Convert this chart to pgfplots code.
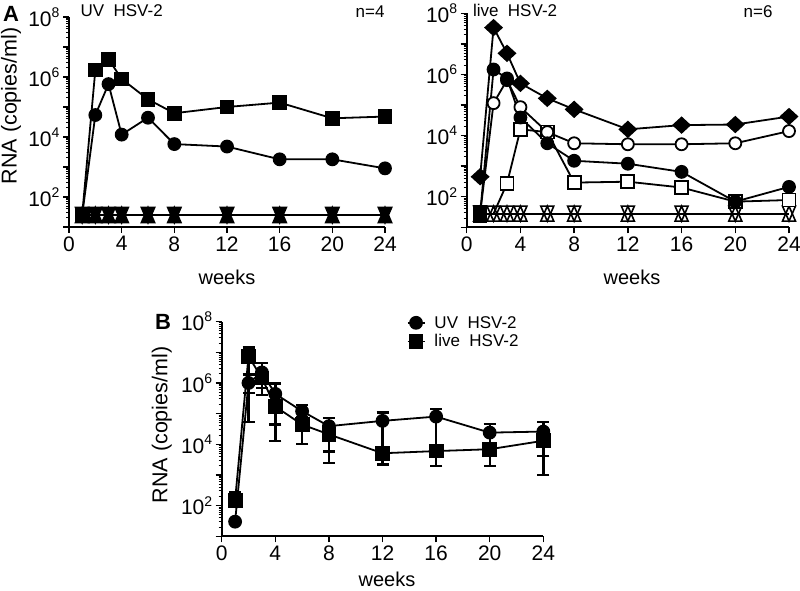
\documentclass[border=0pt]{standalone}
\usepackage{fontspec}
\setmainfont{Liberation Sans}
\usepackage{pgfplots}
\pgfplotsset{compat=1.18}
\newcommand{\ex}[1]{10\raisebox{0.42em}{\fontsize{14}{14}\selectfont #1}}
\begin{document}
\begin{tikzpicture}
\useasboundingbox (0pt,0pt) rectangle (800pt,591pt);

% ---------------- Panel A left: UV HSV-2 ----------------
\begin{axis}[
    scale only axis, at={(69pt,364pt)}, anchor=south west, width=316pt, height=210pt,
    ymode=log, xmin=0, xmax=24, ymin=10, ymax=1e8,
    axis x line*=bottom, axis y line*=left,
    axis line style={-, line width=1.8pt},
    clip=false,
    xtick={0,4,8,12,16,20,24}, xticklabels={0,4,8,12,16,20,24},
    ytick={10,100,1000,10000,100000,1000000,10000000,100000000},
    yticklabels={,\ex{2},,\ex{4},,\ex{6},,\ex{8}},
    minor ytick={20,30,40,50,60,70,80,90,200,300,400,500,600,700,800,900,2000,3000,4000,5000,6000,7000,8000,9000,20000,30000,40000,50000,60000,70000,80000,90000,200000,300000,400000,500000,600000,700000,800000,900000,2000000,3000000,4000000,5000000,6000000,7000000,8000000,9000000,20000000,30000000,40000000,50000000,60000000,70000000,80000000,90000000},
    tick align=outside, major tick length=6pt, minor tick length=3pt,
    tick style={black, line width=1.4pt},
    minor tick style={line width=1pt},
    tick label style={font=\fontsize{21}{25}\selectfont}]
\addplot[black, line width=1.8pt, mark=triangle*, mark size=7.5pt, mark options={yshift=-2.5pt, yscale=1.33}] coordinates {(1,25)(2,25)(3,25)(4,25)(6,25)(8,25)(12,25)(16,25)(20,25)(24,25)};
\addplot[black, line width=1.8pt, mark=triangle*, mark size=7.5pt, mark options={yshift=2.5pt, rotate=180, yscale=1.33}] coordinates {(1,25)(2,25)(3,25)(4,25)(6,25)(8,25)(12,25)(16,25)(20,25)(24,25)};
\addplot[black, line width=1.8pt, mark=*, mark size=6pt] coordinates {(1,25)(2,54000)(3,580000)(4,12000)(6,44000)(8,5800)(12,4800)(16,1800)(20,1800)(24,900)};
\addplot[black, line width=1.8pt, mark=square*, mark size=6.5pt] coordinates {(1,25)(2,1700000)(3,3900000)(4,860000)(6,180000)(8,62000)(12,100000)(16,140000)(20,42000)(24,48000)};
\end{axis}

% ---------------- Panel A right: live HSV-2 ----------------
\begin{axis}[
    scale only axis, at={(466.7pt,363.7pt)}, anchor=south west, width=322.3pt, height=214pt,
    ymode=log, xmin=0, xmax=24, ymin=10, ymax=1e8,
    axis x line*=bottom, axis y line*=left,
    axis line style={-, line width=1.8pt},
    clip=false,
    xtick={0,4,8,12,16,20,24}, xticklabels={0,4,8,12,16,20,24},
    ytick={10,100,1000,10000,100000,1000000,10000000,100000000},
    yticklabels={,\ex{2},,\ex{4},,\ex{6},,\ex{8}},
    minor ytick={20,30,40,50,60,70,80,90,200,300,400,500,600,700,800,900,2000,3000,4000,5000,6000,7000,8000,9000,20000,30000,40000,50000,60000,70000,80000,90000,200000,300000,400000,500000,600000,700000,800000,900000,2000000,3000000,4000000,5000000,6000000,7000000,8000000,9000000,20000000,30000000,40000000,50000000,60000000,70000000,80000000,90000000},
    tick align=outside, major tick length=6pt, minor tick length=3pt,
    tick style={black, line width=1.4pt},
    minor tick style={line width=1pt},
    tick label style={font=\fontsize{21}{25}\selectfont}]
\addplot[black, line width=1.8pt, mark=triangle, mark size=7.5pt, mark options={yshift=-2.5pt, yscale=1.33, line width=1.6pt}] coordinates {(1,28)(2,28)(3,28)(4,28)(6,28)(8,28)(12,28)(16,28)(20,28)(24,28)};
\addplot[black, line width=1.8pt, mark=triangle, mark size=7.5pt, mark options={yshift=2.5pt, rotate=180, yscale=1.33, line width=1.6pt}] coordinates {(1,28)(2,28)(3,28)(4,28)(6,28)(8,28)(12,28)(16,28)(20,28)(24,28)};
\addplot[black, line width=1.8pt, mark=square*, mark size=6.5pt, mark options={fill=white}, mark indices={2,3,4,5,6,7,8,9}] coordinates {(2,28)(3,270)(4,16000)(6,13000)(8,290)(12,310)(16,200)(20,69)(24,78)};
\addplot[black, line width=1.8pt, mark=*, mark size=6pt, mark options={fill=white}] coordinates {(1,28)(2,115000)(3,650000)(4,85000)(6,13000)(8,5600)(12,5200)(16,5200)(20,5600)(24,14000)};
\addplot[black, line width=1.8pt, mark=*, mark size=6pt] coordinates {(1,28)(2,1450000)(3,740000)(4,39000)(6,5600)(8,1500)(12,1200)(16,650)(20,69)(24,210)};
\addplot[black, line width=1.8pt, mark=diamond*, mark size=7.5pt, mark options={xscale=1.45}] coordinates {(1,450)(2,34000000)(3,4900000)(4,510000)(6,165000)(8,72000)(12,16000)(16,22000)(20,23000)(24,42000)};
\addplot[black, only marks, mark=square*, mark size=6.5pt, mark options={yscale=1.35}] coordinates {(1,28)};
\end{axis}

% ---------------- Panel B ----------------
\begin{axis}[
    scale only axis, at={(221.7pt,54.7pt)}, anchor=south west, width=321.6pt, height=214.7pt,
    ymode=log, xmin=0, xmax=24, ymin=10, ymax=1e8,
    axis x line*=bottom, axis y line*=left,
    axis line style={-, line width=1.8pt},
    clip=false,
    xtick={0,4,8,12,16,20,24}, xticklabels={0,4,8,12,16,20,24},
    ytick={10,100,1000,10000,100000,1000000,10000000,100000000},
    yticklabels={,\ex{2},,\ex{4},,\ex{6},,\ex{8}},
    minor ytick={20,30,40,50,60,70,80,90,200,300,400,500,600,700,800,900,2000,3000,4000,5000,6000,7000,8000,9000,20000,30000,40000,50000,60000,70000,80000,90000,200000,300000,400000,500000,600000,700000,800000,900000,2000000,3000000,4000000,5000000,6000000,7000000,8000000,9000000,20000000,30000000,40000000,50000000,60000000,70000000,80000000,90000000},
    tick align=outside, major tick length=6pt, minor tick length=3pt,
    tick style={black, line width=1.4pt},
    minor tick style={line width=1pt},
    tick label style={font=\fontsize{21}{25}\selectfont},
    legend style={at={(0.565,1.045)}, anchor=north west, draw=none, fill=none,
      font=\fontsize{17}{20}\selectfont, row sep=1pt,
      /tikz/every odd column/.append style={column sep=7pt}},
    legend cell align=left]
\addplot[black, line width=1.8pt, mark=*, mark size=6pt,
  error bars/.cd, y dir=both, y explicit,
  error bar style={line width=2.4pt, black},
  error mark options={rotate=90, mark size=6pt, line width=2.4pt, black}]
  table[x=x, y=y, y error plus expr=\thisrow{hi}-\thisrow{y}, y error minus expr=\thisrow{y}-\thisrow{lo}] {
x  y       hi       lo
1  30      30       30
2  1000000 1900000  470000
3  2200000 4500000  690000
4  440000  950000   44000
6  120000  195000   75000
8  39000   72000    5800
12 58000   110000   5100
16 80000   140000   2000
20 24000   45000    7000
24 26000   53000    4100
};
\addlegendentry{UV\ \ HSV-2}
\addplot[black, line width=1.8pt, mark=square*, mark size=6.5pt,
  error bars/.cd, y dir=both, y explicit,
  error bar style={line width=2.4pt, black},
  error mark options={rotate=90, mark size=6pt, line width=2.4pt, black}]
  table[x=x, y=y, y error plus expr=\thisrow{hi}-\thisrow{y}, y error minus expr=\thisrow{y}-\thisrow{lo}] {
x  y       hi        lo
1  150     265       150
2  7400000 14500000  54000
3  1450000 2000000   410000
4  170000  230000    12600
6  44000   60000     10000
8  21000   28000     2400
12 5100    7000      2200
16 6000    8200      2000
20 6900    11000     2000
24 13000   18000     980
};
\addlegendentry{live\ \ HSV-2}
\end{axis}

% ---------------- Labels ----------------
\node[font=\bfseries\fontsize{22}{26}\selectfont] at (11pt,577.5pt) {A};
\node[font=\bfseries\fontsize{22}{26}\selectfont] at (163pt,269pt) {B};
\node[anchor=west, font=\fontsize{17}{20}\selectfont] at (77pt,580pt) {UV\ \ HSV-2};
\node[anchor=east, font=\fontsize{17}{20}\selectfont] at (388pt,579pt) {n=4};
\node[anchor=west, font=\fontsize{17}{20}\selectfont] at (469.5pt,581pt) {live\ \ HSV-2};
\node[anchor=east, font=\fontsize{17}{20}\selectfont] at (776pt,579pt) {n=6};
\node[font=\fontsize{20}{24}\selectfont] at (227pt,314pt) {weeks};
\node[font=\fontsize{20}{24}\selectfont] at (632pt,314pt) {weeks};
\node[anchor=base, inner sep=0pt, font=\fontsize{20}{24}\selectfont] at (387pt,4.5pt) {weeks};
\node[rotate=90, font=\fontsize{21.5}{25}\selectfont] at (11pt,485pt) {RNA (copies/ml)};
\node[rotate=90, font=\fontsize{21.5}{25}\selectfont] at (161.7pt,166pt) {RNA (copies/ml)};
\end{tikzpicture}
\end{document}
